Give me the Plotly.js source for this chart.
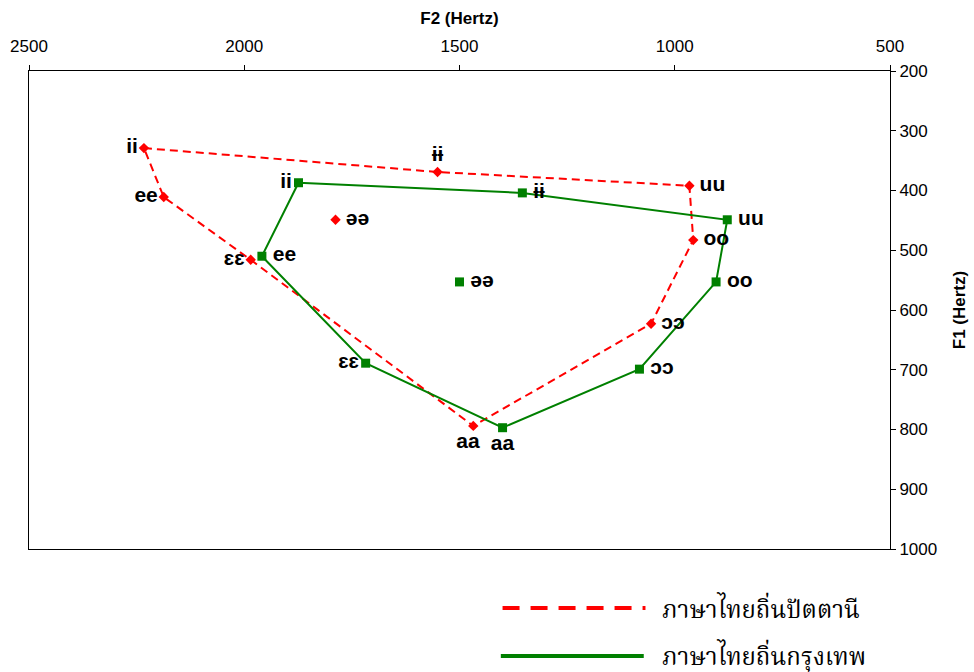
<!DOCTYPE html>
<html>
<head>
<meta charset="utf-8">
<script src="https://cdn.plot.ly/plotly-3.0.1.min.js"></script>
<style>
  html, body { margin: 0; padding: 0; background: #ffffff; }
  #chart { width: 974px; height: 672px; }
</style>
</head>
<body>
<div id="chart"></div>
<script>
// Vowel labels, in the same order as the formant arrays below
const vowels = ['ii', 'ee', 'ɛɛ', 'aa', 'ɔɔ', 'oo', 'uu', 'ɨɨ', 'əə'];

// Pattani Thai (Hz)
const pattaniF2 = [2233, 2187, 1985, 1468, 1055, 957, 966, 1551, 1788];
const pattaniF1 = [329, 411, 516, 794, 623, 483, 392, 369, 449];

// Bangkok Thai (Hz)
const bangkokF2 = [1874, 1959, 1718, 1400, 1082, 904, 878, 1354, 1500];
const bangkokF1 = [387, 510, 689, 797, 699, 553, 449, 404, 553];

const seriesNames = ['ภาษาไทยถิ่นปัตตานี', 'ภาษาไทยถิ่นกรุงเทพ'];

// Outline of the vowel space (peripheral vowels, closed back to ii)
const outlineOrder = ['ii', 'ɨɨ', 'uu', 'oo', 'ɔɔ', 'aa', 'ɛɛ', 'ee', 'ii'];

// Ticks
const f2Ticks = [2500, 2000, 1500, 1000, 500];
const f1Ticks = [200, 300, 400, 500, 600, 700, 800, 900, 1000];

// Label placement for each vowel marker
const pattaniTextPos = ['middle left', 'middle left', 'middle left', 'bottom center', 'middle right',
                        'middle right', 'middle right', 'top center', 'middle right'];
const bangkokTextPos = ['middle left', 'middle right', 'middle left', 'bottom center', 'middle right',
                        'middle right', 'middle right', 'middle right', 'middle right'];

const RED = '#ff0000';
const GREEN = '#008000';
const labelFont = { family: 'Liberation Sans, Arial, sans-serif', size: 21, color: '#000000', weight: 'bold' };

// Labels to the right of a marker get a thin space in front so they sit a little clear of it;
// the Pattani 'aa' label is nudged left with a trailing en space so it clears the Bangkok one.
function labelTexts(positions, nudgeLeft) {
  return vowels.map((v, i) => {
    if (positions[i] === 'middle right') return '\u2009' + v;
    if (nudgeLeft.includes(v)) return v + '\u2002';
    return v;
  });
}

function outline(f2, f1) {
  const xs = [], ys = [];
  outlineOrder.forEach(v => {
    const i = vowels.indexOf(v);
    xs.push(f2[i]);
    ys.push(f1[i]);
  });
  return { x: xs, y: ys };
}

const pOut = outline(pattaniF2, pattaniF1);
const bOut = outline(bangkokF2, bangkokF1);

const traces = [
  {
    name: seriesNames[0], x: pOut.x, y: pOut.y, type: 'scatter', mode: 'lines',
    line: { color: RED, width: 2, dash: '8px,5px' }, showlegend: false, hoverinfo: 'skip'
  },
  {
    name: seriesNames[1], x: bOut.x, y: bOut.y, type: 'scatter', mode: 'lines',
    line: { color: GREEN, width: 2 }, showlegend: false, hoverinfo: 'skip'
  },
  {
    name: seriesNames[0], x: pattaniF2, y: pattaniF1, type: 'scatter', mode: 'markers+text',
    marker: { symbol: 'diamond', size: 8, color: RED },
    text: labelTexts(pattaniTextPos, ['aa']), textposition: pattaniTextPos, textfont: labelFont, showlegend: false
  },
  {
    name: seriesNames[1], x: bangkokF2, y: bangkokF1, type: 'scatter', mode: 'markers+text',
    marker: { symbol: 'square', size: 9, color: GREEN },
    text: labelTexts(bangkokTextPos, []), textposition: bangkokTextPos, textfont: labelFont, showlegend: false
  }
];

const axisFont = { family: 'Liberation Sans, Arial, sans-serif', size: 17, color: '#000000' };
const titleFont = { family: 'Liberation Sans, Arial, sans-serif', size: 17, color: '#000000', weight: 'bold' };
const legendFont = { family: 'Liberation Serif, Noto Serif Thai, serif', size: 24, color: '#000000' };

const layout = {
  width: 974,
  height: 672,
  margin: { l: 29, r: 84, t: 71, b: 123 },
  paper_bgcolor: '#ffffff',
  plot_bgcolor: '#ffffff',
  showlegend: false,
  xaxis: {
    side: 'top',
    range: [2500, 500],
    tickvals: f2Ticks,
    ticktext: f2Ticks.map(String),
    ticks: 'outside', ticklen: 5, tickcolor: '#000000', tickwidth: 1,
    ticklabelstandoff: 6,
    showline: true, linecolor: '#000000', linewidth: 1, mirror: true,
    showgrid: false, zeroline: false,
    tickfont: axisFont,
    title: { text: 'F2 (Hertz)', font: titleFont, standoff: 8 }
  },
  yaxis: {
    side: 'right',
    range: [1000, 200],
    tickvals: f1Ticks,
    ticktext: f1Ticks.map(String),
    ticks: 'outside', ticklen: 5, tickcolor: '#000000', tickwidth: 1,
    showline: true, linecolor: '#000000', linewidth: 1, mirror: true,
    showgrid: false, zeroline: false,
    tickfont: axisFont,
    title: { text: 'F1 (Hertz)', font: titleFont, standoff: 16 }
  },
  // Legend key drawn below the plot area
  shapes: [
    { type: 'line', xref: 'paper', yref: 'paper', x0: 0.550, x1: 0.716, y0: -0.1234, y1: -0.1234,
      line: { color: RED, width: 4, dash: '17px,11px' } },
    { type: 'line', xref: 'paper', yref: 'paper', x0: 0.548, x1: 0.714, y0: -0.2238, y1: -0.2238,
      line: { color: GREEN, width: 4 } }
  ],
  annotations: [
    { xref: 'paper', yref: 'paper', x: 0.733, y: -0.1234, xanchor: 'left', yanchor: 'middle',
      text: seriesNames[0], showarrow: false, font: legendFont },
    { xref: 'paper', yref: 'paper', x: 0.733, y: -0.2238, xanchor: 'left', yanchor: 'middle',
      text: seriesNames[1], showarrow: false, font: legendFont }
  ]
};

Plotly.newPlot('chart', traces, layout, { displayModeBar: false, staticPlot: true });
</script>
</body>
</html>
